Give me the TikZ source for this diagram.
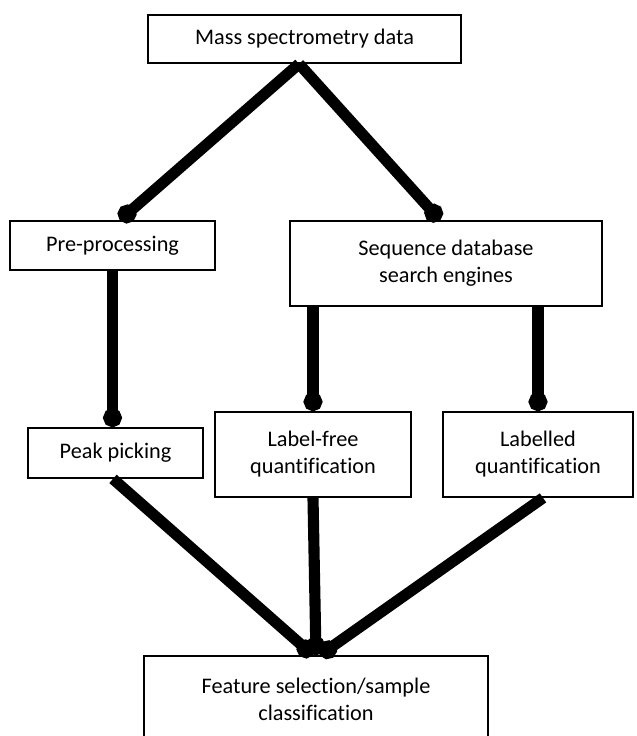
\documentclass[tikz,border=0pt]{standalone}
\usepackage{fontspec}
\setmainfont{Carlito}[Ligatures=NoCommon]
\usetikzlibrary{arrows.meta,calc}

\begin{document}
\begin{tikzpicture}[
    box/.style={draw, line width=1.5pt, inner sep=0pt, align=center,
        font=\fontsize{19}{23}\selectfont},
    link/.style={draw, line width=9.5pt, -{Circle[length=0.56cm, width=0.56cm]}}
]
    \useasboundingbox (0,0) rectangle (19.11,-22.08);

    \node[box, minimum width=9.39cm, minimum height=1.44cm] (msd) at (9.135,-1.17) {Mass spectrometry data};
    \node[box, minimum width=6.15cm, minimum height=1.47cm] (pre) at (3.375,-7.365) {Pre-processing};
    \node[box, minimum width=9.36cm, minimum height=2.55cm] (seq) at (13.38,-7.905) {Sequence database\\search engines};
    \node[box, minimum width=5.25cm, minimum height=1.5cm] (peak) at (3.465,-13.59) {Peak picking};
    \node[box, minimum width=5.88cm, minimum height=2.55cm] (lfq) at (9.39,-13.635) {Label-free\\quantification};
    \node[box, minimum width=5.7cm, minimum height=2.55cm] (lq) at (16.14,-13.635) {Labelled\\quantification};
    \node[box, minimum width=10.32cm, minimum height=2.58cm] (fsc) at (9.48,-20.97) {Feature selection/sample\\classification};

    \path[link] ($ (msd.south) + (-0.165,0) $) -- ($ (pre.north) + (0.225,0) $);
    \path[link] ($ (msd.south) + (-0.165,0) $) -- ($ (seq.north) + (-0.18,0) $);

    \path[link] (pre.south) -- (pre.south |- peak.north);
    \path[link] (lfq.north |- seq.south) -- (lfq.north);
    \path[link] (lq.north |- seq.south) -- (lq.north);

    \path[link] ($ (peak.south) + (-0.075,0) $) -- ($ (fsc.north) + (-0.09,0) $);
    \path[link] (lfq.south) -- (fsc.north);
    \path[link] ($ (lq.south) + (0.15,0) $) -- ($ (fsc.north) + (0.12,0) $);

\end{tikzpicture}
\end{document}
